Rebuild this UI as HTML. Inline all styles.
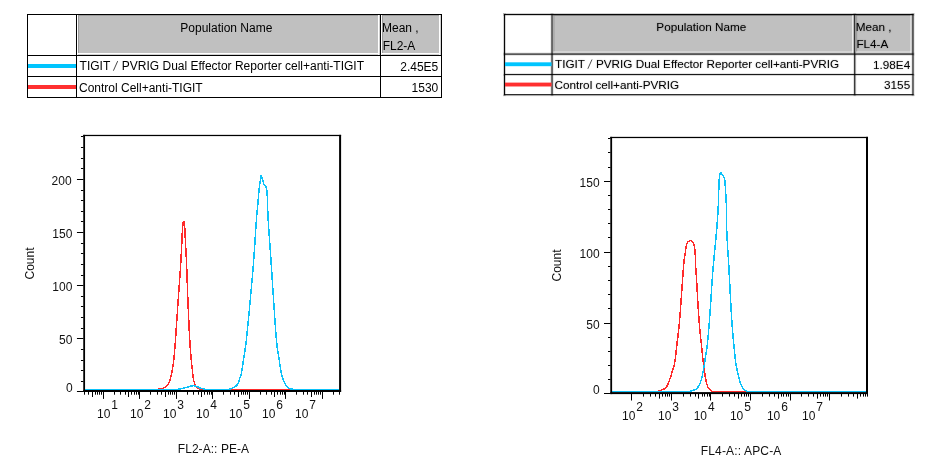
<!DOCTYPE html>
<html><head><meta charset="utf-8"><title>Flow cytometry histograms</title>
<style>
html,body{margin:0;padding:0;background:#fff}
body{width:928px;height:469px;position:relative;overflow:hidden;font-family:'Liberation Sans',sans-serif;font-size:12px;color:#000}
.t{position:absolute;width:430px;height:90px}
.t div,.t span{position:absolute}
.t span{white-space:pre}
#tr span{font-size:12.09px !important}
#tr span{text-shadow:0 0 1.75px rgba(0,0,0,0.3)}
#wrap{position:absolute;left:0;top:0;width:928px;height:469px;will-change:transform}
</style></head><body><div id="wrap">
<div class="t" id="tl" style="left:27px;top:14px">
<div style="left:51px;top:1px;width:302px;height:40px;background:#c0c0c0"></div>
<div style="left:51px;top:1px;width:302px;height:1px;background:#9c9c9c"></div>
<div style="left:51px;top:1px;width:1px;height:38px;background:#9c9c9c"></div>
<div style="left:51px;top:39px;width:302px;height:1px;background:#ffffff"></div>
<div style="left:51px;top:40px;width:302px;height:1px;background:#d2d2d2"></div>
<div style="left:351px;top:1px;width:1px;height:40px;background:#ffffff"></div>
<div style="left:352px;top:1px;width:1px;height:40px;background:#d2d2d2"></div>
<div style="left:355px;top:1px;width:59px;height:40px;background:#c0c0c0"></div>
<div style="left:355px;top:1px;width:59px;height:1px;background:#9c9c9c"></div>
<div style="left:355px;top:1px;width:1px;height:38px;background:#9c9c9c"></div>
<div style="left:355px;top:39px;width:59px;height:1px;background:#ffffff"></div>
<div style="left:355px;top:40px;width:59px;height:1px;background:#d2d2d2"></div>
<div style="left:412px;top:1px;width:1px;height:40px;background:#ffffff"></div>
<div style="left:413px;top:1px;width:1px;height:40px;background:#d2d2d2"></div>
<div style="left:0.0px;top:0.0px;width:415.0px;height:1.0px;background:#000"></div>
<div style="left:0.0px;top:41.0px;width:415.0px;height:1.0px;background:#000"></div>
<div style="left:0.0px;top:62.0px;width:415.0px;height:1.0px;background:#000"></div>
<div style="left:0.0px;top:83.0px;width:415.0px;height:1.0px;background:#000"></div>
<div style="left:0.0px;top:0.0px;width:1.0px;height:84.0px;background:#000"></div>
<div style="left:49.0px;top:0.0px;width:1.0px;height:84.0px;background:#000"></div>
<div style="left:353.0px;top:0.0px;width:1.0px;height:84.0px;background:#000"></div>
<div style="left:414.0px;top:0.0px;width:1.0px;height:84.0px;background:#000"></div>
<div style="left:1px;top:50px;width:48px;height:4px;background:#00C5FF"></div>
<div style="left:1px;top:71px;width:48px;height:4px;background:#FF3030"></div>
<span style="left:153.30px;top:8.00px;font-size:12px;line-height:12px;color:#000;">Population Name</span>
<span style="left:355.00px;top:8.00px;font-size:12px;line-height:12px;color:#000;">Mean ,</span>
<span style="left:355.70px;top:26.00px;font-size:12px;line-height:12px;color:#000;">FL2-A</span>
<span style="left:52.60px;top:46.00px;font-size:12px;line-height:12px;color:#000;">TIGIT</span>
<svg style="position:absolute;left:83px;top:44px" width="12" height="16" viewBox="83 44 12 16"><line x1="86.40" y1="56.7" x2="90.70" y2="47.1" stroke="#333" stroke-width="0.9"/></svg>
<span style="left:94.80px;top:46.00px;font-size:12px;line-height:12px;color:#000;">PVRIG Dual Effector Reporter cell+anti-TIGIT</span>
<span style="left:52.00px;top:68.00px;font-size:12px;line-height:12px;color:#000;">Control Cell+anti-TIGIT</span>
<span style="left:355.30px;width:56px;text-align:right;top:47.0px;font-size:12px;line-height:12px">2.45E5</span>
<span style="left:355.30px;width:56px;text-align:right;top:68.0px;font-size:12px;line-height:12px">1530</span>
</div>
<div class="t" id="tr" style="left:503.9px;top:13.9px;transform-origin:0 0;transform:scale(0.9703,0.9663)">
<div style="left:51px;top:1px;width:310px;height:40px;background:#c0c0c0"></div>
<div style="left:51px;top:1px;width:310px;height:1px;background:#9c9c9c"></div>
<div style="left:51px;top:1px;width:1px;height:38px;background:#9c9c9c"></div>
<div style="left:51px;top:39px;width:310px;height:1px;background:#ffffff"></div>
<div style="left:51px;top:40px;width:310px;height:1px;background:#d2d2d2"></div>
<div style="left:359px;top:1px;width:1px;height:40px;background:#ffffff"></div>
<div style="left:360px;top:1px;width:1px;height:40px;background:#d2d2d2"></div>
<div style="left:363px;top:1px;width:58px;height:40px;background:#c0c0c0"></div>
<div style="left:363px;top:1px;width:58px;height:1px;background:#9c9c9c"></div>
<div style="left:363px;top:1px;width:1px;height:38px;background:#9c9c9c"></div>
<div style="left:363px;top:39px;width:58px;height:1px;background:#ffffff"></div>
<div style="left:363px;top:40px;width:58px;height:1px;background:#d2d2d2"></div>
<div style="left:419px;top:1px;width:1px;height:40px;background:#ffffff"></div>
<div style="left:420px;top:1px;width:1px;height:40px;background:#d2d2d2"></div>
<div style="left:-0.6000000000000001px;top:-0.6000000000000001px;width:423.2px;height:2.2px;background:rgba(0,0,0,0.18)"></div>
<div style="left:-0.6000000000000001px;top:40.4px;width:423.2px;height:2.2px;background:rgba(0,0,0,0.18)"></div>
<div style="left:-0.6000000000000001px;top:61.6px;width:423.2px;height:2.2px;background:rgba(0,0,0,0.18)"></div>
<div style="left:-0.6000000000000001px;top:82.60000000000001px;width:423.2px;height:2.2px;background:rgba(0,0,0,0.18)"></div>
<div style="left:-0.6000000000000001px;top:-0.6000000000000001px;width:2.2px;height:85.4px;background:rgba(0,0,0,0.18)"></div>
<div style="left:48.4px;top:-0.6000000000000001px;width:2.2px;height:85.4px;background:rgba(0,0,0,0.18)"></div>
<div style="left:360.4px;top:-0.6000000000000001px;width:2.2px;height:85.4px;background:rgba(0,0,0,0.18)"></div>
<div style="left:420.4px;top:-0.6000000000000001px;width:2.2px;height:85.4px;background:rgba(0,0,0,0.18)"></div>
<div style="left:-0.06000000000000005px;top:-0.06000000000000005px;width:422.12px;height:1.12px;background:#000"></div>
<div style="left:-0.06000000000000005px;top:40.94px;width:422.12px;height:1.12px;background:#000"></div>
<div style="left:-0.06000000000000005px;top:62.14px;width:422.12px;height:1.12px;background:#000"></div>
<div style="left:-0.06000000000000005px;top:83.14px;width:422.12px;height:1.12px;background:#000"></div>
<div style="left:-0.06000000000000005px;top:-0.06000000000000005px;width:1.12px;height:84.32000000000001px;background:#000"></div>
<div style="left:48.94px;top:-0.06000000000000005px;width:1.12px;height:84.32000000000001px;background:#000"></div>
<div style="left:360.94px;top:-0.06000000000000005px;width:1.12px;height:84.32000000000001px;background:#000"></div>
<div style="left:420.94px;top:-0.06000000000000005px;width:1.12px;height:84.32000000000001px;background:#000"></div>
<div style="left:1px;top:50.0px;width:48px;height:4px;background:#00C5FF"></div>
<div style="left:1px;top:71.0px;width:48px;height:4px;background:#FF3030"></div>
<span style="left:157.00px;top:8.00px;font-size:12px;line-height:12px;color:#000;">Population Name</span>
<span style="left:362.50px;top:8.00px;font-size:12px;line-height:12px;color:#000;">Mean ,</span>
<span style="left:363.20px;top:25.30px;font-size:12px;line-height:12px;color:#000;">FL4-A</span>
<span style="left:52.60px;top:46.00px;font-size:12px;line-height:12px;color:#000;">TIGIT</span>
<svg style="position:absolute;left:83px;top:44px" width="12" height="16" viewBox="83 44 12 16"><line x1="86.40" y1="56.7" x2="90.70" y2="47.1" stroke="#333" stroke-width="0.9"/></svg>
<span style="left:94.80px;top:46.00px;font-size:12px;line-height:12px;color:#000;">PVRIG Dual Effector Reporter cell+anti-PVRIG</span>
<span style="left:52.00px;top:68.00px;font-size:12px;line-height:12px;color:#000;">Control cell+anti-PVRIG</span>
<span style="left:362.60px;width:56px;text-align:right;top:47.0px;font-size:12px;line-height:12px">1.98E4</span>
<span style="left:362.60px;width:56px;text-align:right;top:68.0px;font-size:12px;line-height:12px">3155</span>
</div>
<svg width="928" height="360" viewBox="0 109 928 360" style="position:absolute;left:0;top:109px">
<polyline fill="none" stroke="#FF2A2A" stroke-width="1.5" stroke-linejoin="round" shape-rendering="crispEdges" points="85.00,389.25 86.56,389.25 88.12,389.25 89.68,389.25 91.23,389.25 92.78,389.25 94.32,389.25 95.86,389.25 97.40,389.25 98.94,389.25 100.47,389.25 102.00,389.25 103.53,389.25 105.06,389.25 106.58,389.25 108.10,389.25 109.61,389.25 111.13,389.25 112.64,389.25 114.15,389.25 115.65,389.25 117.16,389.25 118.66,389.25 120.16,389.25 121.65,389.25 123.15,389.25 124.64,389.25 126.13,389.25 127.62,389.25 129.10,389.25 130.59,389.25 132.07,389.25 133.55,389.25 135.03,389.25 136.50,389.25 137.98,389.25 139.45,389.25 140.92,389.25 142.39,389.25 143.86,389.25 145.33,389.25 146.79,389.25 148.25,389.25 149.72,389.25 151.18,389.25 152.64,389.25 154.10,389.25 155.55,389.25 157.01,389.25 158.46,389.25 159.92,389.21 161.35,388.69 162.82,388.22 164.32,387.75 165.63,387.17 166.67,386.32 167.59,385.11 168.38,383.72 169.05,382.32 169.60,380.96 170.08,379.55 170.51,378.09 170.90,376.63 171.26,375.17 171.59,373.71 171.90,372.24 172.19,370.77 172.46,369.29 172.71,367.81 172.94,366.33 173.16,364.85 173.36,363.37 173.56,361.88 173.74,360.39 173.90,358.90 174.06,357.41 174.20,355.92 174.34,354.43 174.47,352.93 174.59,351.44 174.71,349.95 174.83,348.45 174.94,346.96 175.06,345.46 175.17,343.97 175.28,342.48 175.39,340.98 175.50,339.49 175.61,337.99 175.72,336.50 175.82,335.00 175.93,333.51 176.03,332.01 176.13,330.52 176.23,329.02 176.33,327.53 176.43,326.03 176.53,324.54 176.63,323.04 176.73,321.55 176.83,320.05 176.93,318.55 177.03,317.06 177.13,315.56 177.22,314.07 177.32,312.57 177.42,311.08 177.52,309.58 177.62,308.09 177.72,306.59 177.82,305.10 177.92,303.60 178.03,302.11 178.13,300.61 178.24,299.12 178.34,297.62 178.45,296.13 178.55,294.63 178.66,293.14 178.77,291.64 178.88,290.15 178.99,288.65 179.10,287.16 179.20,285.66 179.31,284.17 179.42,282.67 179.53,281.18 179.63,279.68 179.74,278.19 179.85,276.69 179.95,275.20 180.05,273.70 180.16,272.21 180.26,270.71 180.36,269.22 180.46,267.72 180.55,266.23 180.65,264.73 180.74,263.23 180.83,261.74 180.92,260.24 181.01,258.75 181.09,257.25 181.17,255.76 181.25,254.26 181.33,252.76 181.40,251.26 181.47,249.77 181.54,248.27 181.61,246.77 181.69,245.28 181.76,243.78 181.84,242.28 181.91,240.79 181.98,239.29 182.04,237.79 182.11,236.29 182.18,234.80 182.25,233.30 182.33,231.80 182.42,230.31 182.51,228.81 182.61,227.32 182.74,225.82 182.90,224.33 183.07,222.71 183.31,221.40 184.17,221.92 184.33,223.71 184.49,225.20 184.64,226.69 184.75,228.19 184.85,229.68 184.93,231.18 185.01,232.67 185.09,234.17 185.16,235.67 185.23,237.16 185.29,238.66 185.36,240.16 185.43,241.66 185.51,243.15 185.59,244.65 185.67,246.15 185.75,247.64 185.84,249.14 185.92,250.64 186.00,252.13 186.08,253.63 186.16,255.12 186.23,256.62 186.31,258.12 186.37,259.62 186.44,261.11 186.50,262.61 186.56,264.11 186.63,265.60 186.68,267.10 186.74,268.60 186.80,270.10 186.86,271.59 186.91,273.09 186.96,274.59 187.02,276.09 187.07,277.58 187.12,279.08 187.18,280.58 187.23,282.08 187.28,283.58 187.34,285.07 187.39,286.57 187.44,288.07 187.50,289.57 187.55,291.06 187.61,292.56 187.66,294.06 187.72,295.56 187.78,297.05 187.84,298.55 187.90,300.05 187.96,301.55 188.02,303.04 188.09,304.54 188.15,306.04 188.21,307.54 188.28,309.03 188.34,310.53 188.40,312.03 188.47,313.53 188.53,315.02 188.59,316.52 188.66,318.02 188.72,319.52 188.79,321.01 188.86,322.51 188.92,324.01 188.99,325.51 189.06,327.00 189.13,328.50 189.21,330.00 189.28,331.49 189.36,332.99 189.43,334.49 189.51,335.98 189.59,337.48 189.68,338.98 189.76,340.47 189.85,341.97 189.94,343.46 190.04,344.96 190.13,346.45 190.23,347.95 190.34,349.44 190.46,350.94 190.59,352.43 190.72,353.92 190.86,355.41 191.00,356.91 191.14,358.40 191.28,359.89 191.43,361.38 191.58,362.87 191.73,364.37 191.88,365.86 192.04,367.35 192.20,368.84 192.36,370.33 192.51,371.82 192.65,373.32 192.81,374.81 192.99,376.30 193.20,377.78 193.46,379.25 193.79,380.74 194.21,382.21 194.71,383.61 195.31,384.95 196.12,386.36 197.11,387.62 198.21,388.40 199.54,388.83 201.08,389.14 202.62,389.25 204.10,389.25 205.58,389.25 207.06,389.25 208.55,389.25 210.03,389.25 211.51,389.25 212.99,389.25 214.47,389.25 215.95,389.25 217.43,389.25 218.92,389.25 220.40,389.25 221.88,389.25 223.37,389.25 224.85,389.25 226.33,389.25 227.82,389.25 229.30,389.25 230.79,389.25 232.27,389.25 233.76,389.25 235.25,389.25 236.73,389.25 238.22,389.25 239.71,389.25 241.19,389.25 242.68,389.25 244.17,389.25 245.66,389.25 247.15,389.25 248.64,389.25 250.13,389.25 251.62,389.25 253.11,389.25 254.60,389.25 256.09,389.25 257.58,389.25 259.08,389.25 260.57,389.25 262.06,389.25 263.56,389.25 265.05,389.25 266.55,389.25 268.04,389.25 269.54,389.25 271.03,389.25 272.53,389.25 274.03,389.25 275.53,389.25 277.02,389.25 278.52,389.25 280.02,389.25 281.52,389.25 283.02,389.25 284.52,389.25 286.03,389.25 287.53,389.25 289.03,389.25 290.54,389.25 292.04,389.25 293.54,389.25 295.05,389.25 296.56,389.25 298.06,389.25 299.57,389.25 301.08,389.25 302.59,389.25 304.10,389.25 305.61,389.25 307.12,389.25 308.63,389.25 310.14,389.25 311.65,389.25 313.16,389.25 314.68,389.25 316.19,389.25 317.71,389.25 319.22,389.25 320.74,389.25 322.26,389.25 323.78,389.25 325.30,389.25 326.82,389.25 328.34,389.25 329.86,389.25 331.38,389.25 332.90,389.25 334.43,389.25 335.95,389.25 337.47,389.25 339.00,389.25"/>
<polyline fill="none" stroke="#0CC2F9" stroke-width="1.5" stroke-linejoin="round" shape-rendering="crispEdges" points="85.00,389.25 86.54,389.25 88.08,389.25 89.62,389.25 91.16,389.25 92.70,389.25 94.23,389.25 95.76,389.25 97.29,389.25 98.82,389.25 100.35,389.25 101.87,389.25 103.39,389.25 104.92,389.25 106.44,389.25 107.95,389.25 109.47,389.25 110.98,389.25 112.50,389.25 114.01,389.25 115.52,389.25 117.03,389.25 118.54,389.25 120.04,389.25 121.55,389.25 123.05,389.25 124.55,389.25 126.05,389.25 127.55,389.25 129.04,389.25 130.54,389.25 132.04,389.25 133.53,389.25 135.02,389.25 136.51,389.25 138.00,389.25 139.49,389.25 140.98,389.25 142.46,389.25 143.95,389.25 145.43,389.25 146.92,389.25 148.40,389.25 149.88,389.25 151.36,389.25 152.84,389.25 154.32,389.25 155.79,389.25 157.27,389.25 158.75,389.25 160.22,389.25 161.69,389.25 163.17,389.25 164.64,389.25 166.11,389.25 167.58,389.25 169.05,389.25 170.52,389.25 171.99,389.25 173.45,389.25 174.92,389.25 176.39,389.25 177.85,389.25 179.32,389.23 180.77,388.83 182.22,388.42 183.67,388.07 185.13,387.72 186.58,387.34 188.01,386.89 189.44,386.45 190.90,386.12 192.38,385.84 193.86,385.70 195.33,385.93 196.77,386.42 198.13,387.04 199.45,387.78 200.86,388.23 202.33,388.53 203.76,389.03 205.18,389.25 206.64,389.25 208.12,389.25 209.62,389.25 211.13,389.25 212.65,389.25 214.17,389.25 215.71,389.25 217.24,389.25 218.77,389.25 220.30,389.25 221.82,389.25 223.33,389.25 224.82,389.25 226.29,389.25 227.75,389.25 229.18,389.25 230.57,388.85 231.95,388.18 233.38,387.61 234.74,386.98 235.90,386.17 236.94,385.05 237.80,383.78 238.42,382.46 238.90,381.05 239.34,379.59 239.83,378.16 240.38,376.76 240.86,375.35 241.21,373.90 241.52,372.44 241.79,370.97 242.04,369.48 242.27,368.00 242.51,366.52 242.75,365.04 242.98,363.56 243.19,362.08 243.40,360.60 243.61,359.11 243.83,357.63 244.05,356.15 244.28,354.67 244.52,353.19 244.76,351.71 245.00,350.24 245.23,348.76 245.43,347.27 245.62,345.79 245.80,344.31 245.99,342.82 246.16,341.34 246.34,339.85 246.51,338.36 246.67,336.87 246.84,335.39 247.00,333.90 247.16,332.41 247.31,330.92 247.46,329.43 247.61,327.94 247.76,326.45 247.91,324.96 248.05,323.47 248.19,321.98 248.34,320.49 248.48,318.99 248.61,317.50 248.75,316.01 248.89,314.52 249.03,313.03 249.17,311.54 249.30,310.04 249.44,308.55 249.58,307.06 249.71,305.57 249.85,304.08 249.99,302.59 250.13,301.10 250.27,299.61 250.41,298.12 250.55,296.63 250.69,295.13 250.82,293.64 250.96,292.15 251.09,290.66 251.23,289.17 251.36,287.68 251.50,286.19 251.63,284.70 251.76,283.20 251.90,281.71 252.03,280.22 252.16,278.73 252.29,277.24 252.41,275.75 252.54,274.25 252.67,272.76 252.79,271.27 252.92,269.78 253.04,268.29 253.16,266.79 253.28,265.30 253.40,263.81 253.52,262.32 253.64,260.82 253.76,259.33 253.87,257.84 253.99,256.35 254.10,254.85 254.20,253.36 254.31,251.87 254.41,250.37 254.51,248.88 254.61,247.38 254.70,245.89 254.80,244.39 254.89,242.90 254.98,241.40 255.08,239.91 255.17,238.41 255.26,236.92 255.35,235.43 255.44,233.93 255.54,232.44 255.63,230.94 255.73,229.45 255.82,227.95 255.92,226.46 256.03,224.96 256.13,223.47 256.24,221.98 256.35,220.49 256.46,218.99 256.58,217.50 256.70,216.01 256.82,214.52 256.95,213.03 257.09,211.54 257.26,210.05 257.43,208.56 257.59,207.07 257.73,205.58 257.86,204.09 257.99,202.60 258.11,201.11 258.22,199.61 258.35,198.12 258.47,196.63 258.61,195.14 258.74,193.65 258.88,192.15 259.02,190.66 259.16,189.17 259.31,187.68 259.48,186.19 259.66,184.71 259.87,183.23 260.12,181.75 260.38,180.28 260.66,178.80 260.91,177.21 261.16,175.47 261.52,175.65 261.98,177.42 262.35,178.88 262.71,180.33 263.12,181.77 263.59,183.24 264.14,184.64 264.92,185.86 266.10,186.88 266.44,188.12 266.69,189.51 266.87,190.99 267.02,192.55 267.13,194.13 267.22,195.71 267.30,197.24 267.37,198.73 267.43,200.23 267.48,201.72 267.52,203.22 267.57,204.72 267.60,206.21 267.64,207.71 267.68,209.21 267.73,210.71 267.79,212.20 267.85,213.70 267.92,215.19 267.99,216.69 268.07,218.18 268.15,219.68 268.24,221.17 268.33,222.67 268.42,224.16 268.51,225.65 268.61,227.15 268.71,228.64 268.82,230.14 268.92,231.63 269.03,233.12 269.13,234.62 269.24,236.11 269.35,237.60 269.47,239.10 269.58,240.59 269.69,242.08 269.80,243.58 269.91,245.07 270.02,246.56 270.13,248.06 270.24,249.55 270.35,251.05 270.46,252.54 270.56,254.03 270.67,255.53 270.77,257.02 270.87,258.51 270.96,260.01 271.06,261.50 271.16,263.00 271.26,264.49 271.35,265.99 271.45,267.48 271.54,268.97 271.64,270.47 271.73,271.96 271.83,273.46 271.92,274.95 272.02,276.45 272.11,277.94 272.21,279.43 272.31,280.93 272.40,282.42 272.50,283.92 272.60,285.41 272.69,286.90 272.79,288.40 272.89,289.89 272.99,291.39 273.09,292.88 273.19,294.37 273.29,295.87 273.39,297.36 273.49,298.86 273.60,300.35 273.70,301.84 273.81,303.34 273.91,304.83 274.02,306.32 274.12,307.82 274.22,309.31 274.31,310.81 274.41,312.30 274.51,313.80 274.61,315.30 274.70,316.79 274.80,318.29 274.90,319.78 275.00,321.28 275.10,322.77 275.21,324.27 275.31,325.76 275.42,327.26 275.53,328.75 275.64,330.25 275.76,331.74 275.88,333.23 276.00,334.72 276.13,336.22 276.26,337.71 276.39,339.20 276.53,340.68 276.68,342.17 276.83,343.66 276.99,345.15 277.15,346.63 277.32,348.11 277.54,349.59 277.78,351.07 278.04,352.55 278.30,354.02 278.55,355.50 278.78,356.98 279.00,358.46 279.21,359.94 279.42,361.43 279.63,362.91 279.85,364.39 280.08,365.87 280.32,367.35 280.56,368.83 280.81,370.31 281.08,371.79 281.36,373.26 281.68,374.71 282.05,376.16 282.48,377.59 282.97,379.02 283.51,380.42 284.08,381.80 284.70,383.20 285.39,384.58 286.17,385.85 287.11,386.91 288.33,387.85 289.67,388.51 291.10,389.01 292.59,389.25 294.05,389.25 295.52,389.25 296.98,389.25 298.45,389.25 299.92,389.25 301.40,389.25 302.87,389.25 304.35,389.25 305.83,389.25 307.31,389.25 308.79,389.25 310.27,389.25 311.76,389.25 313.25,389.25 314.74,389.25 316.23,389.25 317.73,389.25 319.23,389.25 320.73,389.25 322.23,389.25 323.74,389.25 325.25,389.25 326.77,389.25 328.28,389.25 329.80,389.25 331.33,389.25 332.85,389.25 334.39,389.25 335.92,389.25 337.46,389.25 339.00,389.25"/>
<rect x="83.25" y="134.85" width="1.8" height="257.15" fill="#000"/>
<rect x="339.1" y="134.85" width="2" height="257.15" fill="#000"/>
<rect x="83.25" y="134.85" width="257.85" height="1.25" fill="#000"/>
<rect x="83.25" y="390.0" width="257.85" height="2" fill="#000"/>
<rect x="76.95" y="391" width="6.5" height="1" fill="#000"/>
<rect x="80.95" y="381" width="2.5" height="1" fill="#000"/>
<rect x="80.95" y="370" width="2.5" height="1" fill="#000"/>
<rect x="80.95" y="360" width="2.5" height="1" fill="#000"/>
<rect x="80.95" y="349" width="2.5" height="1" fill="#000"/>
<rect x="76.95" y="338" width="6.5" height="1" fill="#000"/>
<rect x="80.95" y="328" width="2.5" height="1" fill="#000"/>
<rect x="80.95" y="317" width="2.5" height="1" fill="#000"/>
<rect x="80.95" y="306" width="2.5" height="1" fill="#000"/>
<rect x="80.95" y="296" width="2.5" height="1" fill="#000"/>
<rect x="76.95" y="285" width="6.5" height="1" fill="#000"/>
<rect x="80.95" y="275" width="2.5" height="1" fill="#000"/>
<rect x="80.95" y="264" width="2.5" height="1" fill="#000"/>
<rect x="80.95" y="253" width="2.5" height="1" fill="#000"/>
<rect x="80.95" y="243" width="2.5" height="1" fill="#000"/>
<rect x="76.95" y="232" width="6.5" height="1" fill="#000"/>
<rect x="80.95" y="221" width="2.5" height="1" fill="#000"/>
<rect x="80.95" y="211" width="2.5" height="1" fill="#000"/>
<rect x="80.95" y="200" width="2.5" height="1" fill="#000"/>
<rect x="80.95" y="190" width="2.5" height="1" fill="#000"/>
<rect x="76.95" y="179" width="6.5" height="1" fill="#000"/>
<rect x="80.95" y="168" width="2.5" height="1" fill="#000"/>
<rect x="80.95" y="158" width="2.5" height="1" fill="#000"/>
<rect x="80.95" y="147" width="2.5" height="1" fill="#000"/>
<rect x="80.95" y="136" width="2.5" height="1" fill="#000"/>
<rect x="84" y="391.40" width="1" height="3.3" fill="#000"/>
<rect x="88" y="391.40" width="1" height="3.3" fill="#000"/>
<rect x="92" y="391.40" width="1" height="5.6" fill="#000"/>
<rect x="95" y="391.40" width="1" height="3.3" fill="#000"/>
<rect x="97" y="391.40" width="1" height="3.3" fill="#000"/>
<rect x="99" y="391.40" width="1" height="3.3" fill="#000"/>
<rect x="101" y="391.40" width="1" height="3.3" fill="#000"/>
<rect x="103" y="391.40" width="1" height="7.5" fill="#000"/>
<rect x="114" y="391.40" width="1" height="3.3" fill="#000"/>
<rect x="120" y="391.40" width="1" height="3.3" fill="#000"/>
<rect x="125" y="391.40" width="1" height="3.3" fill="#000"/>
<rect x="128" y="391.40" width="1" height="5.6" fill="#000"/>
<rect x="131" y="391.40" width="1" height="3.3" fill="#000"/>
<rect x="134" y="391.40" width="1" height="3.3" fill="#000"/>
<rect x="136" y="391.40" width="1" height="3.3" fill="#000"/>
<rect x="138" y="391.40" width="1" height="3.3" fill="#000"/>
<rect x="139" y="391.40" width="1" height="7.5" fill="#000"/>
<rect x="150" y="391.40" width="1" height="3.3" fill="#000"/>
<rect x="157" y="391.40" width="1" height="3.3" fill="#000"/>
<rect x="161" y="391.40" width="1" height="3.3" fill="#000"/>
<rect x="165" y="391.40" width="1" height="5.6" fill="#000"/>
<rect x="168" y="391.40" width="1" height="3.3" fill="#000"/>
<rect x="170" y="391.40" width="1" height="3.3" fill="#000"/>
<rect x="172" y="391.40" width="1" height="3.3" fill="#000"/>
<rect x="174" y="391.40" width="1" height="3.3" fill="#000"/>
<rect x="176" y="391.40" width="1" height="7.5" fill="#000"/>
<rect x="187" y="391.40" width="1" height="3.3" fill="#000"/>
<rect x="193" y="391.40" width="1" height="3.3" fill="#000"/>
<rect x="198" y="391.40" width="1" height="3.3" fill="#000"/>
<rect x="201" y="391.40" width="1" height="5.6" fill="#000"/>
<rect x="204" y="391.40" width="1" height="3.3" fill="#000"/>
<rect x="207" y="391.40" width="1" height="3.3" fill="#000"/>
<rect x="209" y="391.40" width="1" height="3.3" fill="#000"/>
<rect x="211" y="391.40" width="1" height="3.3" fill="#000"/>
<rect x="212" y="391.40" width="1" height="7.5" fill="#000"/>
<rect x="223" y="391.40" width="1" height="3.3" fill="#000"/>
<rect x="230" y="391.40" width="1" height="3.3" fill="#000"/>
<rect x="234" y="391.40" width="1" height="3.3" fill="#000"/>
<rect x="238" y="391.40" width="1" height="5.6" fill="#000"/>
<rect x="241" y="391.40" width="1" height="3.3" fill="#000"/>
<rect x="243" y="391.40" width="1" height="3.3" fill="#000"/>
<rect x="245" y="391.40" width="1" height="3.3" fill="#000"/>
<rect x="247" y="391.40" width="1" height="3.3" fill="#000"/>
<rect x="249" y="391.40" width="1" height="7.5" fill="#000"/>
<rect x="260" y="391.40" width="1" height="3.3" fill="#000"/>
<rect x="266" y="391.40" width="1" height="3.3" fill="#000"/>
<rect x="271" y="391.40" width="1" height="3.3" fill="#000"/>
<rect x="274" y="391.40" width="1" height="5.6" fill="#000"/>
<rect x="277" y="391.40" width="1" height="3.3" fill="#000"/>
<rect x="280" y="391.40" width="1" height="3.3" fill="#000"/>
<rect x="282" y="391.40" width="1" height="3.3" fill="#000"/>
<rect x="284" y="391.40" width="1" height="3.3" fill="#000"/>
<rect x="285" y="391.40" width="1" height="7.5" fill="#000"/>
<rect x="296" y="391.40" width="1" height="3.3" fill="#000"/>
<rect x="303" y="391.40" width="1" height="3.3" fill="#000"/>
<rect x="307" y="391.40" width="1" height="3.3" fill="#000"/>
<rect x="311" y="391.40" width="1" height="5.6" fill="#000"/>
<rect x="314" y="391.40" width="1" height="3.3" fill="#000"/>
<rect x="316" y="391.40" width="1" height="3.3" fill="#000"/>
<rect x="318" y="391.40" width="1" height="3.3" fill="#000"/>
<rect x="320" y="391.40" width="1" height="3.3" fill="#000"/>
<rect x="322" y="391.40" width="1" height="7.5" fill="#000"/>
<rect x="333" y="391.40" width="1" height="3.3" fill="#000"/>
<rect x="339" y="391.40" width="1" height="3.3" fill="#000"/>
<text x="97.00" y="417.9" font-family="Liberation Sans, sans-serif" font-size="12" fill="#111">10</text>
<text x="111.30" y="409.3" font-family="Liberation Sans, sans-serif" font-size="12" fill="#111">1</text>
<text x="130.00" y="417.9" font-family="Liberation Sans, sans-serif" font-size="12" fill="#111">10</text>
<text x="144.30" y="409.3" font-family="Liberation Sans, sans-serif" font-size="12" fill="#111">2</text>
<text x="163.00" y="417.9" font-family="Liberation Sans, sans-serif" font-size="12" fill="#111">10</text>
<text x="177.30" y="409.3" font-family="Liberation Sans, sans-serif" font-size="12" fill="#111">3</text>
<text x="196.00" y="417.9" font-family="Liberation Sans, sans-serif" font-size="12" fill="#111">10</text>
<text x="210.30" y="409.3" font-family="Liberation Sans, sans-serif" font-size="12" fill="#111">4</text>
<text x="229.00" y="417.9" font-family="Liberation Sans, sans-serif" font-size="12" fill="#111">10</text>
<text x="243.30" y="409.3" font-family="Liberation Sans, sans-serif" font-size="12" fill="#111">5</text>
<text x="262.00" y="417.9" font-family="Liberation Sans, sans-serif" font-size="12" fill="#111">10</text>
<text x="276.30" y="409.3" font-family="Liberation Sans, sans-serif" font-size="12" fill="#111">6</text>
<text x="295.00" y="417.9" font-family="Liberation Sans, sans-serif" font-size="12" fill="#111">10</text>
<text x="309.30" y="409.3" font-family="Liberation Sans, sans-serif" font-size="12" fill="#111">7</text>
<text x="71.6" y="184.85" text-anchor="end" font-family="Liberation Sans, sans-serif" font-size="12" fill="#111">200</text>
<text x="72.39999999999999" y="238.05" text-anchor="end" font-family="Liberation Sans, sans-serif" font-size="12" fill="#111">150</text>
<text x="72.39999999999999" y="291.05" text-anchor="end" font-family="Liberation Sans, sans-serif" font-size="12" fill="#111">100</text>
<text x="72.39999999999999" y="344.05" text-anchor="end" font-family="Liberation Sans, sans-serif" font-size="12" fill="#111">50</text>
<text x="72.6" y="391.65" text-anchor="end" font-family="Liberation Sans, sans-serif" font-size="12" fill="#111">0</text>
<text transform="translate(34.2,263.5) rotate(-90)" text-anchor="middle" font-family="Liberation Sans, sans-serif" font-size="12" fill="#111">Count</text>
<text x="177.8" y="453.0" letter-spacing="0.05" font-family="Liberation Sans, sans-serif" font-size="12" fill="#111">FL2-A:: PE-A</text>
<polyline fill="none" stroke="#FF2A2A" stroke-width="1.5" stroke-linejoin="round" shape-rendering="crispEdges" points="612.00,391.50 613.56,391.50 615.12,391.50 616.66,391.50 618.21,391.50 619.75,391.50 621.28,391.50 622.81,391.50 624.33,391.50 625.85,391.50 627.37,391.50 628.87,391.50 630.38,391.50 631.88,391.50 633.38,391.50 634.87,391.50 636.36,391.50 637.85,391.50 639.33,391.50 640.81,391.50 642.28,391.50 643.76,391.50 645.22,391.50 646.69,391.50 648.15,391.50 649.62,391.50 651.07,391.50 652.53,391.50 653.99,391.50 655.44,391.50 656.89,391.50 658.32,391.18 659.74,390.62 661.20,390.15 662.64,389.65 663.96,389.04 665.13,388.20 666.21,387.08 667.10,385.86 667.80,384.59 668.39,383.23 668.91,381.80 669.40,380.35 669.90,378.93 670.39,377.52 670.86,376.10 671.31,374.67 671.76,373.24 672.20,371.81 672.66,370.38 673.13,368.96 673.59,367.53 674.01,366.09 674.35,364.64 674.62,363.18 674.86,361.72 675.09,360.25 675.29,358.77 675.48,357.28 675.66,355.80 675.82,354.30 675.99,352.81 676.14,351.32 676.30,349.82 676.46,348.33 676.62,346.84 676.79,345.35 676.97,343.86 677.15,342.38 677.33,340.89 677.52,339.41 677.71,337.92 677.89,336.44 678.07,334.95 678.25,333.47 678.43,331.98 678.59,330.49 678.75,329.01 678.90,327.52 679.04,326.03 679.18,324.54 679.31,323.05 679.45,321.56 679.58,320.07 679.70,318.58 679.83,317.09 679.95,315.60 680.07,314.11 680.18,312.62 680.30,311.13 680.41,309.64 680.53,308.14 680.64,306.65 680.74,305.16 680.85,303.67 680.96,302.17 681.06,300.68 681.17,299.19 681.27,297.70 681.38,296.20 681.48,294.71 681.59,293.22 681.69,291.72 681.79,290.23 681.90,288.74 682.00,287.25 682.11,285.75 682.22,284.26 682.32,282.77 682.43,281.27 682.54,279.78 682.65,278.29 682.76,276.80 682.88,275.31 683.00,273.81 683.11,272.32 683.23,270.83 683.34,269.34 683.45,267.85 683.57,266.35 683.69,264.86 683.82,263.37 683.97,261.88 684.14,260.40 684.33,258.92 684.54,257.43 684.76,255.95 684.99,254.47 685.22,253.00 685.45,251.51 685.65,250.02 685.86,248.52 686.10,247.04 686.39,245.59 686.78,244.15 687.37,242.68 688.22,241.61 689.61,240.79 691.01,240.69 692.40,241.54 693.27,242.64 693.82,244.03 694.22,245.57 694.48,247.03 694.70,248.50 694.88,250.00 695.03,251.49 695.15,252.99 695.24,254.48 695.31,255.98 695.37,257.47 695.42,258.97 695.47,260.46 695.52,261.96 695.56,263.46 695.62,264.95 695.69,266.45 695.77,267.94 695.88,269.43 695.99,270.93 696.09,272.42 696.19,273.91 696.29,275.40 696.39,276.90 696.48,278.39 696.57,279.88 696.66,281.38 696.75,282.87 696.84,284.37 696.93,285.86 697.01,287.35 697.10,288.85 697.18,290.34 697.27,291.84 697.36,293.33 697.44,294.82 697.53,296.32 697.61,297.81 697.70,299.31 697.78,300.80 697.87,302.29 697.96,303.79 698.05,305.28 698.14,306.78 698.23,308.27 698.32,309.76 698.42,311.26 698.51,312.75 698.61,314.24 698.71,315.73 698.82,317.23 698.92,318.72 699.03,320.21 699.14,321.70 699.25,323.19 699.37,324.68 699.49,326.17 699.61,327.66 699.74,329.15 699.89,330.64 700.04,332.13 700.19,333.62 700.36,335.10 700.53,336.59 700.69,338.08 700.86,339.57 701.03,341.05 701.20,342.54 701.36,344.03 701.52,345.52 701.67,347.00 701.82,348.49 701.97,349.98 702.11,351.47 702.26,352.96 702.41,354.45 702.56,355.94 702.71,357.43 702.87,358.91 703.03,360.40 703.20,361.89 703.38,363.37 703.56,364.86 703.75,366.34 703.96,367.82 704.17,369.30 704.39,370.78 704.62,372.26 704.84,373.74 705.07,375.22 705.30,376.71 705.55,378.18 705.82,379.65 706.13,381.11 706.47,382.60 706.85,384.08 707.30,385.51 707.84,386.86 708.57,388.13 709.55,389.33 710.65,390.32 711.94,391.18 713.36,391.39 714.87,391.48 716.39,391.50 717.88,391.50 719.37,391.50 720.87,391.50 722.36,391.50 723.86,391.50 725.35,391.50 726.85,391.50 728.34,391.50 729.84,391.50 731.33,391.50 732.83,391.50 734.32,391.50 735.82,391.50 737.31,391.50 738.81,391.50 740.30,391.50 741.80,391.50 743.29,391.50 744.79,391.50 746.28,391.50 747.78,391.50 749.27,391.50 750.77,391.50 752.26,391.50 753.76,391.50 755.25,391.50 756.75,391.50 758.24,391.50 759.74,391.50 761.23,391.50 762.73,391.50 764.22,391.50 765.72,391.50 767.21,391.50 768.71,391.50 770.21,391.50 771.70,391.50 773.20,391.50 774.69,391.50 776.19,391.50 777.68,391.50 779.18,391.50 780.67,391.50 782.17,391.50 783.67,391.50 785.16,391.50 786.66,391.50 788.15,391.50 789.65,391.50 791.15,391.50 792.64,391.50 794.14,391.50 795.63,391.50 797.13,391.50 798.63,391.50 800.12,391.50 801.62,391.50 803.11,391.50 804.61,391.50 806.11,391.50 807.60,391.50 809.10,391.50 810.60,391.50 812.09,391.50 813.59,391.50 815.09,391.50 816.58,391.50 818.08,391.50 819.58,391.50 821.07,391.50 822.57,391.50 824.07,391.50 825.56,391.50 827.06,391.50 828.56,391.50 830.05,391.50 831.55,391.50 833.05,391.50 834.55,391.50 836.04,391.50 837.54,391.50 839.04,391.50 840.54,391.50 842.03,391.50 843.53,391.50 845.03,391.50 846.53,391.50 848.02,391.50 849.52,391.50 851.02,391.50 852.52,391.50 854.01,391.50 855.51,391.50 857.01,391.50 858.51,391.50 860.01,391.50 861.51,391.50 863.00,391.50 864.50,391.50 866.00,391.50"/>
<polyline fill="none" stroke="#0CC2F9" stroke-width="1.5" stroke-linejoin="round" shape-rendering="crispEdges" points="612.00,391.50 613.58,391.50 615.15,391.50 616.72,391.50 618.28,391.50 619.84,391.50 621.40,391.50 622.95,391.50 624.50,391.50 626.05,391.50 627.59,391.50 629.13,391.50 630.66,391.50 632.19,391.50 633.72,391.50 635.25,391.50 636.77,391.50 638.29,391.50 639.80,391.50 641.31,391.50 642.82,391.50 644.33,391.50 645.83,391.50 647.33,391.50 648.83,391.50 650.32,391.50 651.81,391.50 653.30,391.50 654.79,391.50 656.27,391.50 657.75,391.50 659.23,391.50 660.71,391.50 662.18,391.50 663.65,391.50 665.12,391.50 666.59,391.50 668.06,391.50 669.52,391.50 670.98,391.50 672.44,391.50 673.90,391.50 675.35,391.50 676.81,391.50 678.26,391.50 679.71,391.50 681.16,391.50 682.61,391.50 684.05,391.50 685.50,391.50 686.94,391.50 688.38,391.50 689.82,391.47 691.23,390.90 692.69,390.43 694.17,389.99 695.52,389.45 696.67,388.64 697.71,387.50 698.60,386.21 699.30,384.94 699.92,383.59 700.46,382.17 700.95,380.73 701.38,379.28 701.76,377.85 702.11,376.39 702.43,374.92 702.72,373.45 703.01,371.98 703.28,370.51 703.54,369.04 703.79,367.56 704.03,366.08 704.27,364.60 704.51,363.12 704.75,361.65 704.99,360.17 705.23,358.69 705.47,357.21 705.70,355.73 705.94,354.25 706.16,352.77 706.39,351.29 706.60,349.81 706.81,348.33 707.00,346.85 707.19,345.36 707.36,343.88 707.53,342.39 707.68,340.90 707.84,339.41 707.98,337.92 708.12,336.43 708.26,334.94 708.39,333.45 708.52,331.96 708.65,330.47 708.78,328.97 708.90,327.48 709.02,325.99 709.14,324.50 709.26,323.01 709.37,321.51 709.49,320.02 709.60,318.53 709.71,317.04 709.81,315.54 709.92,314.05 710.02,312.56 710.13,311.06 710.23,309.57 710.33,308.08 710.43,306.58 710.52,305.09 710.62,303.60 710.72,302.10 710.82,300.61 710.91,299.11 711.01,297.62 711.11,296.13 711.20,294.63 711.30,293.14 711.40,291.64 711.50,290.15 711.60,288.66 711.70,287.16 711.80,285.67 711.90,284.18 712.00,282.68 712.11,281.19 712.21,279.70 712.32,278.20 712.43,276.71 712.54,275.22 712.66,273.73 712.77,272.23 712.89,270.74 713.01,269.25 713.14,267.76 713.26,266.27 713.39,264.77 713.53,263.28 713.66,261.79 713.80,260.30 713.93,258.81 714.07,257.32 714.21,255.83 714.36,254.34 714.50,252.85 714.64,251.36 714.78,249.87 714.93,248.38 715.07,246.89 715.22,245.40 715.36,243.91 715.50,242.42 715.64,240.93 715.78,239.44 715.92,237.95 716.06,236.45 716.20,234.96 716.33,233.47 716.46,231.98 716.59,230.49 716.72,229.00 716.85,227.51 716.97,226.02 717.09,224.52 717.20,223.03 717.32,221.54 717.42,220.05 717.53,218.55 717.63,217.06 717.73,215.57 717.82,214.07 717.92,212.58 718.01,211.09 718.09,209.59 718.17,208.10 718.24,206.60 718.31,205.11 718.36,203.61 718.42,202.11 718.46,200.62 718.50,199.12 718.54,197.62 718.58,196.13 718.62,194.63 718.66,193.13 718.70,191.64 718.74,190.14 718.79,188.65 718.85,187.15 718.91,185.66 718.98,184.16 719.05,182.65 719.12,181.15 719.22,179.65 719.33,178.16 719.47,176.68 719.64,175.18 719.98,173.34 720.49,172.30 721.35,173.43 722.25,174.69 723.08,175.94 723.89,177.25 724.46,178.61 724.70,180.03 724.88,181.49 725.03,182.98 725.14,184.50 725.24,186.02 725.34,187.54 725.44,189.03 725.54,190.53 725.65,192.02 725.75,193.52 725.85,195.01 725.94,196.50 726.03,198.00 726.11,199.50 726.18,200.99 726.23,202.49 726.28,203.98 726.30,205.48 726.32,206.97 726.33,208.47 726.34,209.97 726.35,211.47 726.36,212.96 726.37,214.46 726.38,215.96 726.40,217.45 726.42,218.95 726.45,220.44 726.48,221.94 726.52,223.44 726.56,224.93 726.61,226.43 726.66,227.92 726.71,229.42 726.77,230.91 726.84,232.41 726.90,233.90 726.97,235.40 727.05,236.89 727.12,238.39 727.20,239.88 727.29,241.38 727.37,242.87 727.45,244.37 727.54,245.86 727.63,247.36 727.72,248.85 727.81,250.35 727.91,251.84 728.00,253.34 728.09,254.83 728.19,256.33 728.28,257.82 728.37,259.32 728.47,260.81 728.56,262.31 728.65,263.80 728.74,265.30 728.83,266.79 728.92,268.28 729.00,269.78 729.08,271.27 729.16,272.77 729.24,274.26 729.32,275.76 729.40,277.25 729.48,278.75 729.56,280.24 729.63,281.74 729.71,283.23 729.79,284.73 729.87,286.22 729.94,287.72 730.02,289.21 730.10,290.71 730.18,292.20 730.26,293.70 730.34,295.19 730.42,296.69 730.50,298.18 730.58,299.68 730.66,301.17 730.74,302.67 730.82,304.16 730.91,305.66 730.99,307.15 731.08,308.65 731.17,310.14 731.26,311.64 731.35,313.13 731.44,314.62 731.53,316.12 731.63,317.61 731.72,319.10 731.82,320.60 731.92,322.09 732.02,323.58 732.13,325.08 732.23,326.57 732.34,328.06 732.45,329.55 732.57,331.05 732.70,332.54 732.83,334.03 732.96,335.52 733.09,337.01 733.23,338.50 733.37,339.99 733.52,341.48 733.66,342.97 733.81,344.46 733.95,345.95 734.09,347.44 734.24,348.94 734.38,350.43 734.52,351.92 734.67,353.41 734.83,354.90 734.99,356.39 735.15,357.88 735.33,359.36 735.51,360.85 735.71,362.33 735.91,363.81 736.14,365.29 736.40,366.76 736.69,368.23 737.01,369.69 737.33,371.16 737.66,372.62 737.98,374.08 738.31,375.54 738.65,377.01 739.02,378.46 739.42,379.90 739.86,381.32 740.34,382.76 740.87,384.18 741.46,385.56 742.13,386.87 742.92,388.15 743.88,389.37 744.97,390.32 746.30,391.10 747.73,391.41 749.21,391.46 750.73,391.49 752.24,391.50 753.73,391.50 755.23,391.50 756.73,391.50 758.22,391.50 759.72,391.50 761.22,391.50 762.71,391.50 764.21,391.50 765.71,391.50 767.20,391.50 768.70,391.50 770.20,391.50 771.69,391.50 773.19,391.50 774.69,391.50 776.18,391.50 777.68,391.50 779.18,391.50 780.67,391.50 782.17,391.50 783.67,391.50 785.16,391.50 786.66,391.50 788.16,391.50 789.65,391.50 791.15,391.50 792.65,391.50 794.14,391.50 795.64,391.50 797.14,391.50 798.64,391.50 800.13,391.50 801.63,391.50 803.13,391.50 804.62,391.50 806.12,391.50 807.62,391.50 809.11,391.50 810.61,391.50 812.11,391.50 813.60,391.50 815.10,391.50 816.60,391.50 818.09,391.50 819.59,391.50 821.09,391.50 822.59,391.50 824.08,391.50 825.58,391.50 827.08,391.50 828.57,391.50 830.07,391.50 831.57,391.50 833.06,391.50 834.56,391.50 836.06,391.50 837.55,391.50 839.05,391.50 840.55,391.50 842.05,391.50 843.54,391.50 845.04,391.50 846.54,391.50 848.03,391.50 849.53,391.50 851.03,391.50 852.53,391.50 854.02,391.50 855.52,391.50 857.02,391.50 858.51,391.50 860.01,391.50 861.51,391.50 863.01,391.50 864.50,391.50 866.00,391.50"/>
<rect x="610.3" y="136.85" width="1.8" height="257.25" fill="#000"/>
<rect x="866.0" y="136.85" width="2" height="257.25" fill="#000"/>
<rect x="610.3" y="136.85" width="257.70000000000005" height="1.25" fill="#000"/>
<rect x="610.3" y="392.1" width="257.70000000000005" height="2" fill="#000"/>
<rect x="604.00" y="393" width="6.5" height="1" fill="#000"/>
<rect x="608.00" y="379" width="2.5" height="1" fill="#000"/>
<rect x="608.00" y="365" width="2.5" height="1" fill="#000"/>
<rect x="608.00" y="351" width="2.5" height="1" fill="#000"/>
<rect x="608.00" y="337" width="2.5" height="1" fill="#000"/>
<rect x="604.00" y="323" width="6.5" height="1" fill="#000"/>
<rect x="608.00" y="308" width="2.5" height="1" fill="#000"/>
<rect x="608.00" y="294" width="2.5" height="1" fill="#000"/>
<rect x="608.00" y="280" width="2.5" height="1" fill="#000"/>
<rect x="608.00" y="266" width="2.5" height="1" fill="#000"/>
<rect x="604.00" y="252" width="6.5" height="1" fill="#000"/>
<rect x="608.00" y="237" width="2.5" height="1" fill="#000"/>
<rect x="608.00" y="223" width="2.5" height="1" fill="#000"/>
<rect x="608.00" y="209" width="2.5" height="1" fill="#000"/>
<rect x="608.00" y="195" width="2.5" height="1" fill="#000"/>
<rect x="604.00" y="181" width="6.5" height="1" fill="#000"/>
<rect x="608.00" y="167" width="2.5" height="1" fill="#000"/>
<rect x="608.00" y="152" width="2.5" height="1" fill="#000"/>
<rect x="608.00" y="138" width="2.5" height="1" fill="#000"/>
<rect x="631" y="393.50" width="1" height="7.0" fill="#000"/>
<rect x="643" y="393.50" width="1" height="3.1" fill="#000"/>
<rect x="650" y="393.50" width="1" height="3.1" fill="#000"/>
<rect x="655" y="393.50" width="1" height="3.1" fill="#000"/>
<rect x="659" y="393.50" width="1" height="5.1" fill="#000"/>
<rect x="662" y="393.50" width="1" height="3.1" fill="#000"/>
<rect x="665" y="393.50" width="1" height="3.1" fill="#000"/>
<rect x="667" y="393.50" width="1" height="3.1" fill="#000"/>
<rect x="669" y="393.50" width="1" height="3.1" fill="#000"/>
<rect x="671" y="393.50" width="1" height="7.0" fill="#000"/>
<rect x="683" y="393.50" width="1" height="3.1" fill="#000"/>
<rect x="690" y="393.50" width="1" height="3.1" fill="#000"/>
<rect x="695" y="393.50" width="1" height="3.1" fill="#000"/>
<rect x="698" y="393.50" width="1" height="5.1" fill="#000"/>
<rect x="702" y="393.50" width="1" height="3.1" fill="#000"/>
<rect x="704" y="393.50" width="1" height="3.1" fill="#000"/>
<rect x="707" y="393.50" width="1" height="3.1" fill="#000"/>
<rect x="709" y="393.50" width="1" height="3.1" fill="#000"/>
<rect x="710" y="393.50" width="1" height="7.0" fill="#000"/>
<rect x="722" y="393.50" width="1" height="3.1" fill="#000"/>
<rect x="729" y="393.50" width="1" height="3.1" fill="#000"/>
<rect x="734" y="393.50" width="1" height="3.1" fill="#000"/>
<rect x="738" y="393.50" width="1" height="5.1" fill="#000"/>
<rect x="741" y="393.50" width="1" height="3.1" fill="#000"/>
<rect x="744" y="393.50" width="1" height="3.1" fill="#000"/>
<rect x="746" y="393.50" width="1" height="3.1" fill="#000"/>
<rect x="748" y="393.50" width="1" height="3.1" fill="#000"/>
<rect x="750" y="393.50" width="1" height="7.0" fill="#000"/>
<rect x="762" y="393.50" width="1" height="3.1" fill="#000"/>
<rect x="769" y="393.50" width="1" height="3.1" fill="#000"/>
<rect x="774" y="393.50" width="1" height="3.1" fill="#000"/>
<rect x="778" y="393.50" width="1" height="5.1" fill="#000"/>
<rect x="781" y="393.50" width="1" height="3.1" fill="#000"/>
<rect x="783" y="393.50" width="1" height="3.1" fill="#000"/>
<rect x="786" y="393.50" width="1" height="3.1" fill="#000"/>
<rect x="788" y="393.50" width="1" height="3.1" fill="#000"/>
<rect x="790" y="393.50" width="1" height="7.0" fill="#000"/>
<rect x="801" y="393.50" width="1" height="3.1" fill="#000"/>
<rect x="808" y="393.50" width="1" height="3.1" fill="#000"/>
<rect x="813" y="393.50" width="1" height="3.1" fill="#000"/>
<rect x="817" y="393.50" width="1" height="5.1" fill="#000"/>
<rect x="820" y="393.50" width="1" height="3.1" fill="#000"/>
<rect x="823" y="393.50" width="1" height="3.1" fill="#000"/>
<rect x="825" y="393.50" width="1" height="3.1" fill="#000"/>
<rect x="827" y="393.50" width="1" height="3.1" fill="#000"/>
<rect x="829" y="393.50" width="1" height="7.0" fill="#000"/>
<rect x="841" y="393.50" width="1" height="3.1" fill="#000"/>
<rect x="848" y="393.50" width="1" height="3.1" fill="#000"/>
<rect x="853" y="393.50" width="1" height="3.1" fill="#000"/>
<rect x="857" y="393.50" width="1" height="5.1" fill="#000"/>
<rect x="860" y="393.50" width="1" height="3.1" fill="#000"/>
<rect x="863" y="393.50" width="1" height="3.1" fill="#000"/>
<rect x="865" y="393.50" width="1" height="3.1" fill="#000"/>
<rect x="867" y="393.50" width="1" height="3.1" fill="#000"/>
<text x="622.00" y="419.6" font-family="Liberation Sans, sans-serif" font-size="12" fill="#111">10</text>
<text x="636.30" y="410.8" font-family="Liberation Sans, sans-serif" font-size="12" fill="#111">2</text>
<text x="658.00" y="419.6" font-family="Liberation Sans, sans-serif" font-size="12" fill="#111">10</text>
<text x="672.30" y="410.8" font-family="Liberation Sans, sans-serif" font-size="12" fill="#111">3</text>
<text x="693.70" y="419.6" font-family="Liberation Sans, sans-serif" font-size="12" fill="#111">10</text>
<text x="708.00" y="410.8" font-family="Liberation Sans, sans-serif" font-size="12" fill="#111">4</text>
<text x="729.90" y="419.6" font-family="Liberation Sans, sans-serif" font-size="12" fill="#111">10</text>
<text x="744.20" y="410.8" font-family="Liberation Sans, sans-serif" font-size="12" fill="#111">5</text>
<text x="766.90" y="419.6" font-family="Liberation Sans, sans-serif" font-size="12" fill="#111">10</text>
<text x="781.20" y="410.8" font-family="Liberation Sans, sans-serif" font-size="12" fill="#111">6</text>
<text x="802.00" y="419.6" font-family="Liberation Sans, sans-serif" font-size="12" fill="#111">10</text>
<text x="816.30" y="410.8" font-family="Liberation Sans, sans-serif" font-size="12" fill="#111">7</text>
<text x="599.6" y="186.85" text-anchor="end" font-family="Liberation Sans, sans-serif" font-size="12" fill="#111">150</text>
<text x="599.6" y="258.05" text-anchor="end" font-family="Liberation Sans, sans-serif" font-size="12" fill="#111">100</text>
<text x="599.6" y="329.25" text-anchor="end" font-family="Liberation Sans, sans-serif" font-size="12" fill="#111">50</text>
<text x="599.6" y="394.15" text-anchor="end" font-family="Liberation Sans, sans-serif" font-size="12" fill="#111">0</text>
<text transform="translate(561.4,265.5) rotate(-90)" text-anchor="middle" font-family="Liberation Sans, sans-serif" font-size="12" fill="#111">Count</text>
<text x="700.8" y="454.6" letter-spacing="0.15" font-family="Liberation Sans, sans-serif" font-size="12" fill="#111">FL4-A:: APC-A</text>
</svg>
</div></body></html>
